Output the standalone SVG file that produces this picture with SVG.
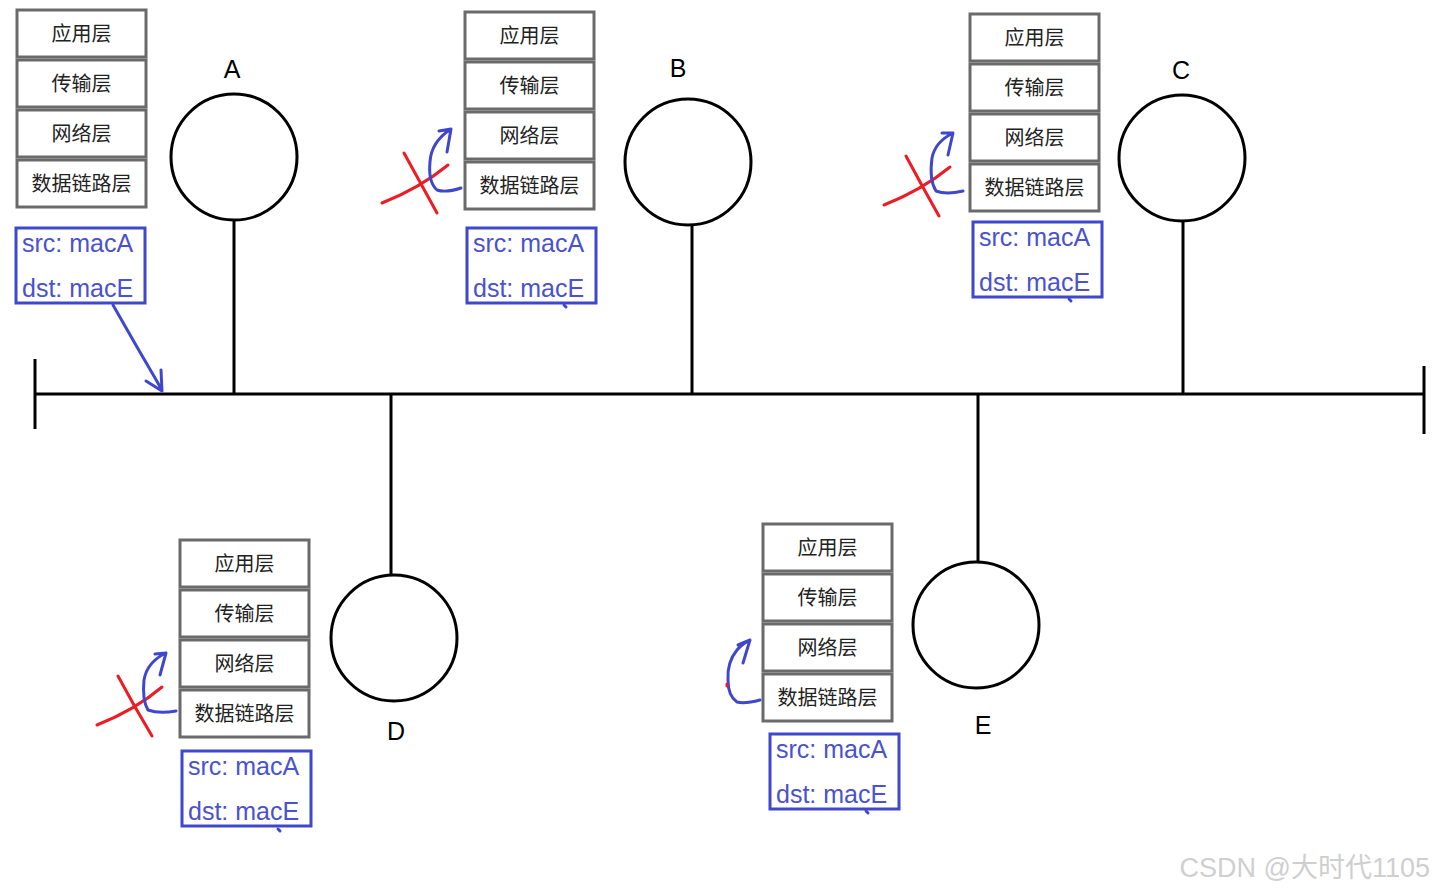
<svg xmlns="http://www.w3.org/2000/svg" width="1434" height="893" viewBox="0 0 1434 893">
<style>
.bg{fill:#fff}
.layer{fill:#fff;stroke:#6a6a6a;stroke-width:3}
.lt{font-family:"Noto Sans CJK SC","Liberation Sans",sans-serif;font-size:20px;fill:#222;text-anchor:middle}
.host{fill:none;stroke:#000;stroke-width:3}
.lbl{font-family:"Liberation Sans",Arial,sans-serif;font-size:25px;fill:#000;text-anchor:middle}
.frame{fill:#fff;stroke:#3f48cc;stroke-width:3}
.ft{font-family:"Liberation Sans",Arial,sans-serif;font-size:25px;fill:#4a52cf}
.wire{stroke:#000;stroke-width:3;fill:none}
.blue{stroke:#3f48cc;stroke-width:3;fill:none;stroke-linecap:round;stroke-linejoin:round}
.red{stroke:#ed1c24;stroke-width:3;fill:none;stroke-linecap:round;stroke-linejoin:round}
.wm{font-family:"Liberation Sans","Noto Sans CJK SC",sans-serif;font-size:27px;fill:#cfcfcf;text-anchor:end}
</style>
<defs>
<g id="stack">
<rect class="layer" x="0" y="0" width="129" height="47"/>
<rect class="layer" x="0" y="50" width="129" height="47"/>
<rect class="layer" x="0" y="100" width="129" height="47"/>
<rect class="layer" x="0" y="150" width="129" height="47"/>
<text class="lt" x="64.5" y="31">应用层</text>
<text class="lt" x="64.5" y="81">传输层</text>
<text class="lt" x="64.5" y="131">网络层</text>
<text class="lt" x="64.5" y="181">数据链路层</text>
</g>
<g id="frame">
<rect class="frame" x="0" y="0" width="129" height="75"/>
<text class="ft" x="6" y="24">src: macA</text>
<text class="ft" x="6" y="69">dst: macE</text>
</g>
</defs>
<rect class="bg" x="0" y="0" width="1434" height="893"/>

<g id="connectors">
<line class="wire" x1="35" y1="394" x2="1424" y2="394"/>
<line class="wire" x1="35" y1="359" x2="35" y2="429"/>
<line class="wire" x1="1424" y1="366" x2="1424" y2="434"/>
<line class="wire" x1="234" y1="220" x2="234" y2="394"/>
<line class="wire" x1="692" y1="225" x2="692" y2="394"/>
<line class="wire" x1="1183" y1="221" x2="1183" y2="394"/>
<line class="wire" x1="391" y1="394" x2="391" y2="575"/>
<line class="wire" x1="978" y1="394" x2="978" y2="562"/>
<path class="blue" d="M113,305 L137,347 L162,390 M146,381 L162,391 L161,370"/>
</g>

<g id="node-A">
<use href="#stack" x="17" y="10"/>
<circle class="host" cx="234" cy="157" r="63"/>
<text class="lbl" x="232" y="78">A</text>
<use href="#frame" x="16" y="228"/>
</g>

<g id="node-B">
<use href="#stack" x="465" y="12"/>
<circle class="host" cx="688" cy="162" r="63"/>
<text class="lbl" x="678" y="77">B</text>
<use href="#frame" x="467" y="228"/>
<path class="blue" d="M564,305 L566,307"/>
<path class="red" d="M382,203 Q420,188 448,165"/>
<path class="red" d="M404,153 Q420,182 437,213"/>
<path class="blue" d="M461,188 Q446,193 437,190 Q428,182 430,162 Q431,142 451,129 M439,131 L451,129 L447,152"/>
</g>

<g id="node-C">
<use href="#stack" x="970" y="14"/>
<circle class="host" cx="1182" cy="158" r="63"/>
<text class="lbl" x="1181" y="79">C</text>
<use href="#frame" x="973" y="222"/>
<path class="blue" d="M1069,299 L1071,301"/>
<path class="red" d="M884,205 Q922,190 950,167"/>
<path class="red" d="M906,156 Q922,186 939,216"/>
<path class="blue" d="M963,191 Q946,195 936,191 Q929,180 932,158 Q935,142 953,133 M942,133 L953,133 L948,155"/>
</g>

<g id="node-D">
<use href="#stack" x="180" y="540"/>
<circle class="host" cx="394" cy="638" r="63"/>
<text class="lbl" x="396" y="740">D</text>
<use href="#frame" x="182" y="751"/>
<path class="blue" d="M278,829 L280,831"/>
<path class="red" d="M97,725 Q135,710 162,687"/>
<path class="red" d="M118,676 Q134,706 152,736"/>
<path class="blue" d="M176,711 Q159,714 148,710 Q142,700 144,680 Q147,662 166,653 M155,654 L166,653 L160,675"/>
</g>

<g id="node-E">
<use href="#stack" x="763" y="524"/>
<circle class="host" cx="976" cy="625" r="63"/>
<text class="lbl" x="983" y="734">E</text>
<use href="#frame" x="770" y="734"/>
<path class="blue" d="M866,811 L868,813"/>
<path class="blue" d="M760,700 Q745,704 737,702 Q728,696 728,680 Q727,662 737,650 Q743,643 750,640 M738,645 L750,640 L743,663"/>
<path class="red" d="M727,684 L727,686"/>
</g>

<text class="wm" x="1430" y="877">CSDN @大时代1105</text>
</svg>
